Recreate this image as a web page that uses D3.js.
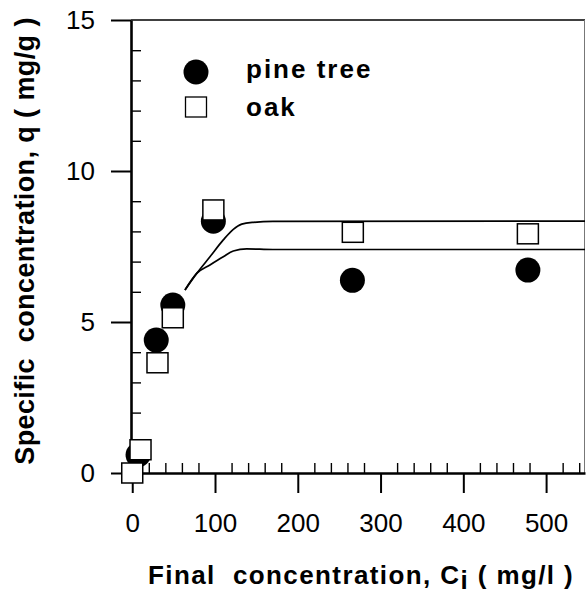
<!DOCTYPE html>
<html>
<head>
<meta charset="utf-8">
<script src="https://cdn.jsdelivr.net/npm/d3@7"></script>
<style>
  html, body { margin: 0; padding: 0; background: #fff; }
  svg { display: block; }
  text { font-family: "Liberation Sans", Arial, Helvetica, sans-serif; fill: #000; }
</style>
</head>
<body>
<svg id="chart" width="586" height="596"></svg>
<script>
// ---- data ----
const pineX = [7, 29, 49, 98, 266, 478];
const pineY = [0.6, 4.40, 5.56, 8.34, 6.38, 6.72];
const oakX  = [0, 10, 30.5, 49, 98, 266.5, 478];
const oakY  = [0, 0.77, 3.65, 5.14, 8.71, 7.97, 7.92];

// fitted curves
const fitOakX  = [63.7, 77.9, 93.9, 110, 122.1, 132.3, 146.3, 170, 547];
const fitOakY  = [6.06, 6.61, 7.16, 7.72, 8.07, 8.24, 8.30, 8.33, 8.34];
const fitPineX = [63.7, 77.9, 93.9, 110, 122.1, 138.3, 170, 547];
const fitPineY = [6.06, 6.61, 6.89, 7.16, 7.35, 7.42, 7.40, 7.40];

const xMajorTicks = [0, 100, 200, 300, 400, 500];
const xMinorTicks = [20, 40, 60, 80, 120, 140, 160, 180, 220, 240, 260, 280, 320, 340, 360, 380, 420, 440, 460, 480, 520, 540];
const yMajorTicks = [0, 5, 10, 15];
const yMinorTicks = [1, 2, 3, 4, 6, 7, 8, 9, 11, 12, 13, 14];

const legendLabels = ["pine tree", "oak"];
const xTitle = ["Final  concentration, C", "i", " ( mg/l )"];
const yTitle = "Specific  concentration, q ( mg/g )";

// ---- layout ----
const svg = d3.select("#chart");
const x = d3.scaleLinear().domain([-1.5, 547]).range([131, 585]);
const y = d3.scaleLinear().domain([0, 15]).range([473, 20]);

// frame: top and right
svg.append("line")
  .attr("x1", x.range()[0]).attr("x2", x.range()[1])
  .attr("y1", y(15)).attr("y2", y(15))
  .attr("stroke", "#000").attr("stroke-width", 1.6);
svg.append("line")
  .attr("x1", x.range()[1] - 0.5).attr("x2", x.range()[1] - 0.5)
  .attr("y1", y(15)).attr("y2", y(0))
  .attr("stroke", "#777").attr("stroke-width", 1);

// y axis
const yMajor = svg.append("g").attr("transform", `translate(${x.range()[0]},0)`)
  .call(d3.axisLeft(y).tickValues(yMajorTicks).tickSize(20).tickSizeOuter(0).tickPadding(16).tickFormat(d3.format("d")));
yMajor.select(".domain").attr("stroke-width", 2.6);
yMajor.selectAll(".tick line").attr("stroke-width", 2);
yMajor.selectAll(".tick text").attr("font-size", 26).style("font-family", "'Liberation Sans', Arial, sans-serif");

const yMinor = svg.append("g").attr("transform", `translate(${x.range()[0]},0)`)
  .call(d3.axisRight(y).tickValues(yMinorTicks).tickSize(10).tickSizeOuter(0).tickFormat(""));
yMinor.select(".domain").remove();
yMinor.selectAll(".tick line").attr("stroke-width", 1.4);

// x axis
const xMajor = svg.append("g").attr("transform", `translate(0,${y(0)})`)
  .call(d3.axisBottom(x).tickValues(xMajorTicks).tickSize(20).tickSizeOuter(0).tickPadding(21).tickFormat(d3.format("d")));
xMajor.select(".domain").attr("stroke-width", 2.6);
xMajor.selectAll(".tick line").attr("stroke-width", 2);
xMajor.selectAll(".tick text").attr("font-size", 26).style("font-family", "'Liberation Sans', Arial, sans-serif");

const xMinor = svg.append("g").attr("transform", `translate(0,${y(0)})`)
  .call(d3.axisTop(x).tickValues(xMinorTicks).tickSize(10).tickSizeOuter(0).tickFormat(""));
xMinor.select(".domain").remove();
xMinor.selectAll(".tick line").attr("stroke-width", 1.4);

// fitted curves
const line = d3.line().x(d => x(d[0])).y(d => y(d[1])).curve(d3.curveMonotoneX);
svg.append("path").datum(fitOakX.map((v, i) => [v, fitOakY[i]]))
  .attr("d", line).attr("fill", "none").attr("stroke", "#000").attr("stroke-width", 1.7);
svg.append("path").datum(fitPineX.map((v, i) => [v, fitPineY[i]]))
  .attr("d", line).attr("fill", "none").attr("stroke", "#000").attr("stroke-width", 1.7);

// data points
const R = 12.5, S = 21;
svg.append("g").selectAll("circle").data(pineX.map((v, i) => [v, pineY[i]])).join("circle")
  .attr("cx", d => x(d[0])).attr("cy", d => y(d[1])).attr("r", R).attr("fill", "#000");
svg.append("g").selectAll("rect").data(oakX.map((v, i) => [v, oakY[i]])).join("rect")
  .attr("x", d => x(d[0]) - S / 2).attr("y", d => y(d[1]) - 10).attr("width", S).attr("height", 20)
  .attr("fill", "#fff").attr("stroke", "#000").attr("stroke-width", 1.5);

// legend
const lg = svg.append("g");
lg.append("circle").attr("cx", 196).attr("cy", 72).attr("r", R).attr("fill", "#000");
lg.append("rect").attr("x", 196 - S / 2).attr("y", 107 - 10).attr("width", S).attr("height", 20)
  .attr("fill", "#fff").attr("stroke", "#000").attr("stroke-width", 1.3);
lg.selectAll("text").data(legendLabels).join("text")
  .attr("x", 246).attr("y", (d, i) => i === 0 ? 78 : 116)
  .attr("font-size", 26).attr("font-weight", "bold").style("letter-spacing", "2px")
  .style("white-space", "pre")
  .text(d => d);

// x title
const xt = svg.append("text").attr("x", 148).attr("y", 584)
  .attr("font-size", 26).attr("font-weight", "bold").style("letter-spacing", "1.4px")
  .style("white-space", "pre");
xt.append("tspan").text(xTitle[0]);
xt.append("tspan").attr("dy", 5).text(xTitle[1]);
xt.append("tspan").attr("dy", -5).text(xTitle[2]);

// y title
svg.append("text")
  .attr("transform", "translate(33.5,241) rotate(-90)")
  .attr("text-anchor", "middle")
  .attr("font-size", 27).attr("font-weight", "bold").style("letter-spacing", "0.4px")
  .style("white-space", "pre")
  .text(yTitle);
</script>
</body>
</html>
